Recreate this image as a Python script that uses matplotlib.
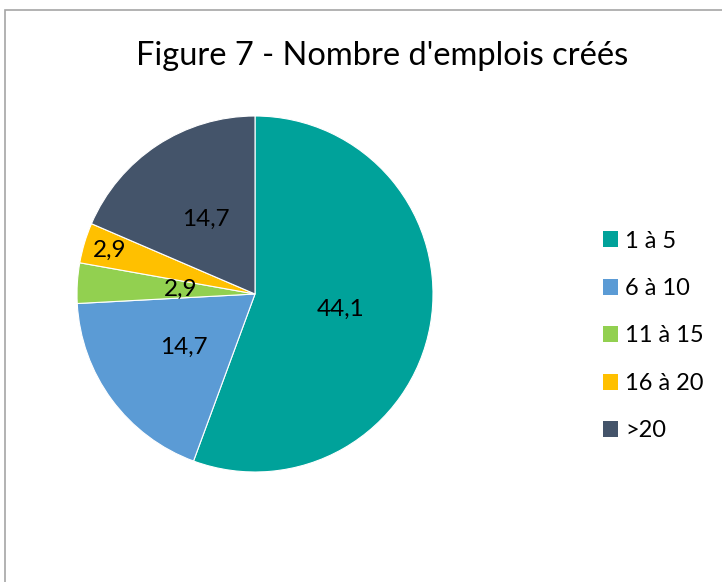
import numpy as np
import matplotlib
matplotlib.use('Agg')
import matplotlib.pyplot as plt
from matplotlib.patches import Rectangle, Patch

plt.rcParams['font.family'] = ['Lato', 'DejaVu Sans']

categories = ['1 à 5', '6 à 10', '11 à 15', '16 à 20', '>20']
values = [44.1, 14.7, 2.9, 2.9, 14.7]
value_labels = ['44,1', '14,7', '2,9', '2,9', '14,7']
colors = ['#00A29A', '#5B9BD5', '#92D050', '#FFC000', '#44546A']
label_dist = [0.49, 0.5, 0.42, 0.85, 0.5]

W, H = 722, 582
fig = plt.figure(figsize=(W / 100, H / 100), dpi=100)

# frame of the chart area
fig.patches.append(Rectangle((5 / W, -0.1), 1.2, 1 - 10 / H + 0.1, transform=fig.transFigure,
                             fill=False, edgecolor='#A6A6A6', linewidth=1.2))

cx, cy, r = 255, 294, 178
ax = fig.add_axes([(cx - r) / W, (H - cy - r) / H, 2 * r / W, 2 * r / H])
wedges, _ = ax.pie(values, colors=colors, startangle=90, counterclock=False,
                   wedgeprops=dict(edgecolor='white', linewidth=0.8))
ax.set_xlim(-1, 1)
ax.set_ylim(-1, 1)
ax.set_aspect('equal')

for w, lab, d in zip(wedges, value_labels, label_dist):
    ang = np.deg2rad((w.theta1 + w.theta2) / 2)
    ax.text(d * np.cos(ang), d * np.sin(ang), lab, ha='center', va='center',
            fontsize=17.5, color='black')

fig.text(382 / W, 1 - 56 / H, "Figure 7 - Nombre d'emplois créés", ha='center', va='center',
         fontsize=23.5)

handles = [Patch(facecolor=c, edgecolor='none') for c in colors]
fig.legend(handles, categories, loc='center left', bbox_to_anchor=(591 / W, 1 - 336 / H),
           frameon=False, fontsize=17, handlelength=0.65, handleheight=0.65,
           handletextpad=0.3, labelspacing=1.12, borderpad=0)

fig.savefig('out.png', dpi=100)
